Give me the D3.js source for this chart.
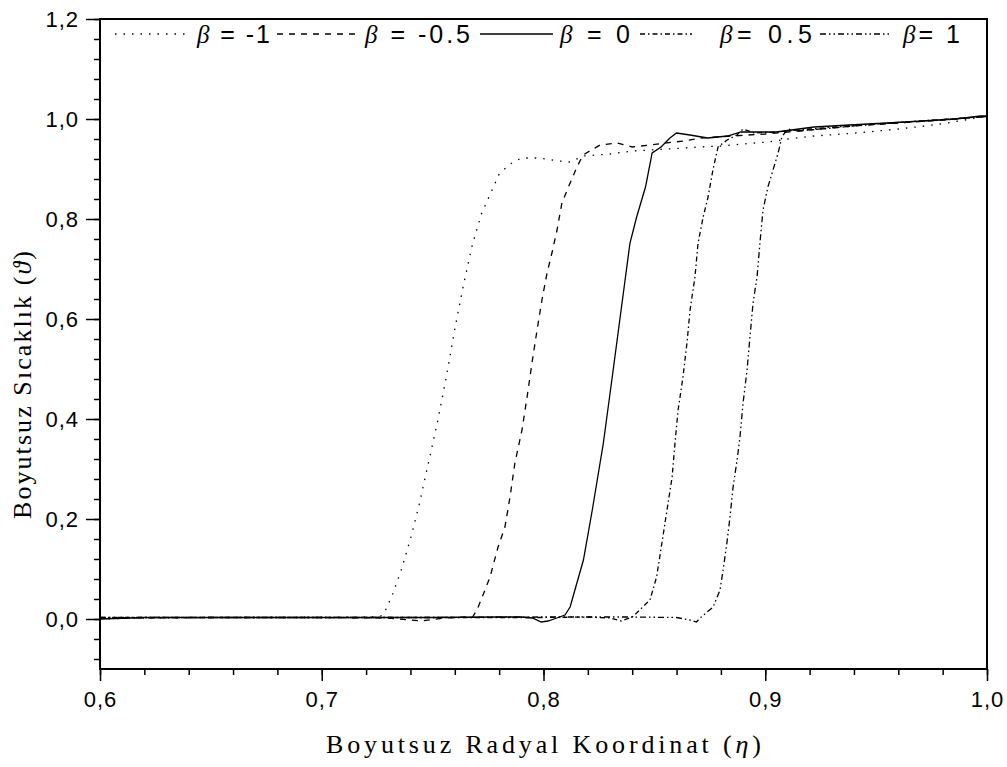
<!DOCTYPE html>
<html>
<head>
<meta charset="utf-8">
<script src="https://cdn.jsdelivr.net/npm/d3@7"></script>
<style>
  body { margin: 0; background: #fff; }
  .tick text { font-family: "Liberation Sans", Arial, sans-serif; font-size: 22px; fill: #000; letter-spacing: 1px; }
  .axis path, .axis line { stroke: #000; }
</style>
</head>
<body>
<div id="chart-area"></div>
<script>
// series: [eta, theta]
const betaM1 = [[0.60,0.000],[0.62,0.002],[0.65,0.003],[0.68,0.003],[0.70,0.003],[0.72,0.004],[0.726,0.004],
  [0.728,0.010],[0.732,0.050],[0.736,0.100],[0.740,0.160],[0.744,0.230],[0.748,0.310],[0.752,0.390],
  [0.756,0.480],[0.760,0.580],[0.764,0.670],[0.768,0.750],[0.772,0.810],[0.776,0.850],[0.780,0.890],
  [0.785,0.910],[0.790,0.922],[0.798,0.922],[0.807,0.916],[0.812,0.914],[0.818,0.926],[0.830,0.930],
  [0.840,0.936],[0.856,0.940],[0.870,0.944],[0.880,0.946],[0.890,0.950],[0.901,0.954],[0.910,0.960],
  [0.922,0.966],[0.935,0.970],[0.946,0.974],[0.960,0.980],[0.972,0.986],[0.982,0.992],[0.990,0.998],[1.0,1.006]];
const betaM05 = [[0.60,0.002],[0.65,0.003],[0.70,0.003],[0.73,0.002],[0.745,-0.004],[0.755,0.002],[0.768,0.004],
  [0.770,0.018],[0.7736,0.058],[0.7759,0.084],[0.7795,0.144],[0.7826,0.184],[0.7849,0.244],[0.7871,0.312],
  [0.7903,0.378],[0.7926,0.444],[0.7948,0.512],[0.7971,0.578],[0.7993,0.638],[0.8016,0.692],[0.8038,0.732],
  [0.8061,0.778],[0.8083,0.832],[0.812,0.872],[0.8151,0.904],[0.8178,0.928],[0.8255,0.948],[0.8331,0.952],
  [0.840,0.944],[0.848,0.948],[0.863,0.956],[0.871,0.962],[0.885,0.966],[0.900,0.970],[0.920,0.978],
  [0.940,0.986],[0.960,0.992],[0.980,0.998],[1.0,1.005]];
const beta0 = [[0.60,0.000],[0.62,0.003],[0.65,0.003],[0.70,0.003],[0.75,0.003],[0.78,0.004],[0.79,0.004],
  [0.795,0.002],[0.799,-0.006],[0.802,-0.004],[0.806,0.002],[0.8097,0.008],[0.812,0.024],[0.818,0.118],
  [0.822,0.218],[0.827,0.352],[0.831,0.484],[0.835,0.618],[0.839,0.752],[0.842,0.804],[0.846,0.864],
  [0.849,0.932],[0.853,0.944],[0.857,0.962],[0.860,0.972],[0.866,0.968],[0.874,0.962],[0.883,0.966],
  [0.889,0.974],[0.905,0.974],[0.922,0.984],[0.938,0.988],[0.955,0.992],[0.971,0.996],[0.986,1.000],
  [0.997,1.006],[1.0,1.006]];
const beta05 = [[0.60,0.003],[0.65,0.003],[0.70,0.003],[0.75,0.003],[0.80,0.003],[0.82,0.004],[0.83,0.002],
  [0.835,-0.004],[0.840,0.004],[0.842,0.012],[0.848,0.038],[0.851,0.084],[0.8534,0.152],[0.8557,0.218],
  [0.858,0.284],[0.8593,0.352],[0.8607,0.418],[0.8629,0.484],[0.8647,0.552],[0.8661,0.618],[0.8683,0.684],
  [0.8697,0.752],[0.872,0.804],[0.8742,0.844],[0.8764,0.898],[0.8787,0.944],[0.8828,0.958],[0.8872,0.968],
  [0.890,0.980],[0.895,0.972],[0.905,0.974],[0.920,0.980],[0.940,0.987],[0.960,0.993],[0.980,0.999],[1.0,1.005]];
const beta1 = [[0.60,0.003],[0.65,0.003],[0.70,0.003],[0.75,0.003],[0.80,0.004],[0.84,0.004],[0.86,0.003],
  [0.866,-0.002],[0.869,-0.006],[0.8706,0.002],[0.8765,0.024],[0.8796,0.058],[0.881,0.098],[0.8827,0.152],
  [0.8841,0.204],[0.8855,0.264],[0.8873,0.318],[0.8886,0.364],[0.890,0.432],[0.8918,0.498],[0.8931,0.564],
  [0.8945,0.632],[0.8963,0.684],[0.8976,0.752],[0.899,0.818],[0.9012,0.864],[0.9035,0.898],[0.9058,0.932],
  [0.9075,0.964],[0.910,0.980],[0.915,0.976],[0.930,0.982],[0.950,0.990],[0.970,0.996],[0.990,1.002],[1.0,1.005]];

const legendLabels = [" = -1", " = -0.5", " = 0", "= 0.5", "= 1"];
const xTicks = [0.6, 0.7, 0.8, 0.9, 1.0];
const yTicks = [0.0, 0.2, 0.4, 0.6, 0.8, 1.0, 1.2];

const margin = { left:100, right:20, top:19, bottom:98 };
const width = 1007 - margin.left - margin.right, height = 767 - margin.top - margin.bottom;

const svg = d3.select("#chart-area")
  .append("svg")
    .attr("width", 1007)
    .attr("height", 767);
const g = svg.append("g")
    .attr("transform", "translate(" + margin.left + ", " + margin.top + ")");

const x = d3.scaleLinear().domain([0.6, 1.0]).range([0, width]);
const y = d3.scaleLinear().domain([-0.1, 1.2]).range([height, 0]);

// comma decimals
const fmt = d3.formatLocale({ decimal: ",", thousands: ".", grouping: [3], currency: ["", ""] }).format(".1f");

// minor ticks first, majors drawn over them
const xMinor = d3.range(30, 51).map(i => i * 0.02);
const yMinor = d3.range(-2, 31).map(i => i * 0.04);

g.append("g")
  .attr("class", "axis")
  .attr("transform", "translate(0," + height + ")")
  .call(d3.axisBottom(x).tickValues(xMinor).tickSize(6).tickFormat(""))
  .call(a => a.select(".domain").remove())
  .selectAll("line").attr("stroke-width", 1.5);

g.append("g")
  .attr("class", "axis")
  .call(d3.axisLeft(y).tickValues(yMinor).tickSize(6).tickFormat(""))
  .call(a => a.select(".domain").remove())
  .selectAll("line").attr("stroke-width", 1.5);

const xAxis = g.append("g")
  .attr("class", "axis")
  .attr("transform", "translate(0," + height + ")")
  .call(d3.axisBottom(x).tickValues(xTicks).tickSize(12).tickPadding(10).tickFormat(fmt));
xAxis.select(".domain").remove();
xAxis.selectAll("line").attr("stroke-width", 1.5);

const yAxis = g.append("g")
  .attr("class", "axis")
  .call(d3.axisLeft(y).tickValues(yTicks).tickSize(14).tickPadding(7).tickFormat(fmt));
yAxis.select(".domain").remove();
yAxis.selectAll("line").attr("stroke-width", 1.5);

// frame
g.append("rect")
  .attr("x", 0).attr("y", 0)
  .attr("width", width).attr("height", height)
  .attr("fill", "none")
  .attr("stroke", "#000")
  .attr("stroke-width", 2);

// curves
const series = [
  { data: betaM1, dash: "1.5,7" },
  { data: betaM05, dash: "6,6" },
  { data: beta0, dash: null },
  { data: beta05, dash: "5,3,1.5,3" },
  { data: beta1, dash: "6,3,1.5,3,1.5,3" }
];

const line = d3.line()
  .x(d => x(d[0]))
  .y(d => y(d[1]));

g.selectAll(".curve")
  .data(series)
  .enter()
  .append("path")
    .attr("class", "curve")
    .attr("d", d => line(d.data))
    .attr("fill", "none")
    .attr("stroke", "#000")
    .attr("stroke-width", 1.3)
    .attr("stroke-dasharray", d => d.dash);

// legend along the top
const legendPos = [
  { x0: 115, x1: 190, tx: 197, w: 73 },
  { x0: 277, x1: 355, tx: 365, w: 105 },
  { x0: 480, x1: 553, tx: 560, w: 70 },
  { x0: 640, x1: 692, tx: 720, w: 92 },
  { x0: 820, x1: 892, tx: 903, w: 57 }
];
const legendY = 34;

legendPos.forEach((p, i) => {
  svg.append("line")
    .attr("x1", p.x0).attr("x2", p.x1)
    .attr("y1", legendY).attr("y2", legendY)
    .attr("stroke", "#000")
    .attr("stroke-width", 1.3)
    .attr("stroke-dasharray", series[i].dash);
  const t = svg.append("text")
    .attr("x", p.tx)
    .attr("y", legendY + 9)
    .attr("font-family", "Liberation Sans, Arial, sans-serif")
    .attr("font-size", "25px")
    .attr("textLength", p.w)
    .attr("lengthAdjust", "spacing");
  t.append("tspan")
    .attr("font-family", "Liberation Serif, serif")
    .attr("font-style", "italic")
    .text("β");
  t.append("tspan").text(legendLabels[i]);
});

// Labels
svg.append("text")
  .attr("x", margin.left + width / 2)
  .attr("y", 753)
  .attr("font-family", "Liberation Serif, Times New Roman, serif")
  .attr("font-size", "26px")
  .attr("text-anchor", "middle")
  .attr("textLength", 435)
  .attr("lengthAdjust", "spacing")
  .html("Boyutsuz Radyal Koordinat (<tspan font-style='italic'>η</tspan>)");

svg.append("text")
  .attr("transform", "translate(31," + 385 + ") rotate(-90)")
  .attr("font-family", "Liberation Serif, Times New Roman, serif")
  .attr("font-size", "26px")
  .attr("text-anchor", "middle")
  .attr("textLength", 268)
  .attr("lengthAdjust", "spacing")
  .html("Boyutsuz Sıcaklık (<tspan font-style='italic'>ϑ</tspan>)");
</script>
</body>
</html>
